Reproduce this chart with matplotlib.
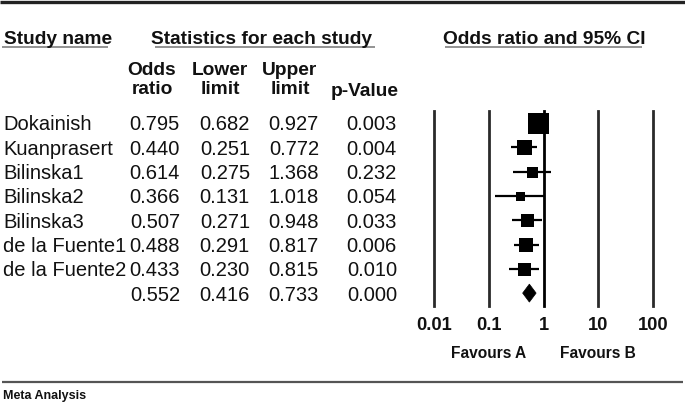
import matplotlib
matplotlib.use("Agg")
import matplotlib.pyplot as plt
from matplotlib.patches import Polygon
import matplotlib.transforms as mtransforms

plt.rcParams['font.family'] = ['Liberation Sans', 'DejaVu Sans']

# ---- data ----
studies = ["Dokainish", "Kuanprasert", "Bilinska1", "Bilinska2", "Bilinska3",
           "de la Fuente1", "de la Fuente2"]
odds = [0.795, 0.440, 0.614, 0.366, 0.507, 0.488, 0.433]
lower = [0.682, 0.251, 0.275, 0.131, 0.271, 0.291, 0.230]
upper = [0.927, 0.772, 1.368, 1.018, 0.948, 0.817, 0.815]
pvals = [0.003, 0.004, 0.232, 0.054, 0.033, 0.006, 0.010]
weights = [21, 15, 11, 9, 13, 14, 13]   # relative study weights (box size)
pooled_or, pooled_lo, pooled_hi, pooled_p = 0.552, 0.416, 0.733, 0.000
xticks = [0.01, 0.1, 1, 10, 100]
xtick_labels = ["0.01", "0.1", "1", "10", "100"]

W, H = 685, 403
DPI = 100
fig = plt.figure(figsize=(W / DPI, H / DPI), dpi=DPI)
fig.patch.set_facecolor("white")

# full-figure axes in pixel coordinates for text and rules
bg = fig.add_axes([0, 0, 1, 1])
bg.set_xlim(0, W)
bg.set_ylim(H, 0)
bg.axis("off")

txt = "#111111"
fs_head = 13.8
fs = 14.5

# top and bottom rules
bg.plot([0, W], [1.5, 1.5], color="#222222", lw=2.4, solid_capstyle="butt")
bg.plot([2, 683], [381.5, 381.5], color="#555555", lw=1.6, solid_capstyle="butt")

# headers
bg.text(4, 37, "Study name", fontsize=fs_head, fontweight="bold", color=txt,
        ha="left", va="center_baseline")
bg.text(262, 37, "Statistics for each study", fontsize=fs_head, fontweight="bold",
        color=txt, ha="center", va="center_baseline")
bg.text(544, 37, "Odds ratio and 95% CI", fontsize=fs_head, fontweight="bold",
        color=txt, ha="center", va="center_baseline")
for x0, x1 in [(2, 108), (155, 375), (445, 642)]:
    bg.plot([x0, x1], [47, 47], color="#8a8a8a", lw=1.3, solid_capstyle="butt")

col_heads = [("Odds\nratio", 152), ("Lower\nlimit", 220), ("Upper\nlimit", 290)]
for label, cx in col_heads:
    bg.text(cx, 80, label, fontsize=fs_head, fontweight="bold", color=txt,
            ha="center", va="center", linespacing=1.15)
bg.text(365, 90, "p-Value", fontsize=fs_head, fontweight="bold", color=txt,
        ha="center", va="center_baseline")

# rows
row_y0, row_dy = 123, 24.3
col_right = [180, 250, 319, 397]
for i, name in enumerate(studies):
    y = row_y0 + i * row_dy
    bg.text(3, y, name, fontsize=fs, color=txt, ha="left", va="center_baseline")
    for xr, v in zip(col_right, [odds[i], lower[i], upper[i], pvals[i]]):
        bg.text(xr, y, f"{v:.3f}", fontsize=fs, color=txt, ha="right",
                va="center_baseline")
y = row_y0 + len(studies) * row_dy
for xr, v in zip(col_right, [pooled_or, pooled_lo, pooled_hi, pooled_p]):
    bg.text(xr, y, f"{v:.3f}", fontsize=fs, color=txt, ha="right",
            va="center_baseline")

bg.text(3, 395, "Meta Analysis", fontsize=9, fontweight="bold", color=txt,
        ha="left", va="center_baseline")

# forest axes
x_left, x_right = 434, 653
y_top, y_bot = 111, 306
ax = fig.add_axes([x_left / W, 1 - y_bot / H, (x_right - x_left) / W,
                   (y_bot - y_top) / H])
ax.set_xscale("log")
ax.set_xlim(xticks[0], xticks[-1])
ax.set_ylim((y_bot - row_y0) / row_dy, -(row_y0 - y_top) / row_dy)
ax.axis("off")
ax.patch.set_alpha(0)

for xt in xticks:
    ax.axvline(xt, color="#000000" if xt == 1 else "#2a2a2a",
               lw=2.0, clip_on=False, zorder=1)

for i in range(len(studies)):
    ax.plot([lower[i], upper[i]], [i, i], color="black", lw=1.6,
            solid_capstyle="butt", zorder=2)
    ax.plot([odds[i]], [i], marker="s", color="black",
            markersize=weights[i] * 0.72, markeredgewidth=0, zorder=3)

yp = len(studies)
hh = 0.37
diamond = Polygon([(pooled_lo, yp), (pooled_or, yp - hh), (pooled_hi, yp),
                   (pooled_or, yp + hh)], closed=True, facecolor="black",
                  edgecolor="black", lw=0.5, zorder=3)
ax.add_patch(diamond)

# tick labels & favours labels (placed at data x via blended transform)
trans = mtransforms.blended_transform_factory(ax.transData, bg.transData)
for xt, lab in zip(xticks, xtick_labels):
    bg.text(xt, 323, lab, transform=trans, fontsize=13.2, fontweight="bold",
            color=txt, ha="center", va="center_baseline")
bg.text(0.1, 352, "Favours A", transform=trans, fontsize=11.2,
        fontweight="bold", color=txt, ha="center", va="center_baseline")
bg.text(10, 352, "Favours B", transform=trans, fontsize=11.2,
        fontweight="bold", color=txt, ha="center", va="center_baseline")

fig.savefig("out.png", dpi=DPI, facecolor="white")
